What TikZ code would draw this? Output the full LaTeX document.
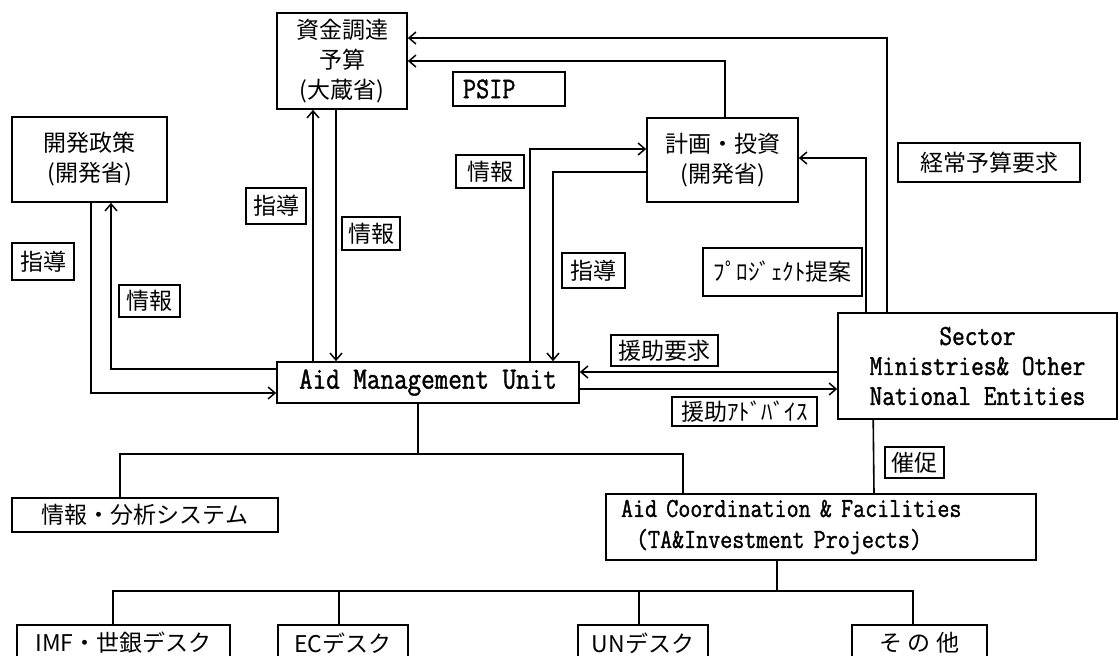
\documentclass[tikz,border=0pt]{standalone}
\usepackage{fontspec}
\setmainfont{Noto Sans CJK JP}
\newfontfamily\lat[FakeStretch=0.85,FakeBold=1.2]{Latin Modern Mono}
\usetikzlibrary{arrows.meta}
\tikzset{
  box/.style={draw, line width=1.6pt, inner sep=0pt, align=center,
    font=\fontsize{23}{30}\selectfont},
  tag/.style={draw, line width=1.6pt, inner sep=0pt,
    font=\fontsize{23}{28}\selectfont},
  ln/.style={line width=1.6pt},
  arr/.style={ln, -{Straight Barb[length=7pt,width=12pt,line width=1.5pt]}},
}
\begin{document}
\begin{tikzpicture}[x=1pt,y=-1pt]
\useasboundingbox (0,0) rectangle (1120,656);
\clip (0,0) rectangle (1120,656);
\fill[white] (0,0) rectangle (1120,656);

% main boxes
\node[box, minimum width=130pt, minimum height=96pt] (fin) at (342,61) {資金調達\\予算\\(大蔵省)};
\node[box, minimum width=155pt, minimum height=85pt] (kpol) at (89.5,159.5) {開発政策\\(開発省)};
\node[box, minimum width=151pt, minimum height=84pt] (plan) at (722.5,160) {計画・投資\\(開発省)};
\node[box, minimum width=302pt, minimum height=41pt, font=\lat\fontsize{31}{30}\selectfont] (amu) at (428,382.5) {Aid Management Unit};
\node[box, minimum width=279pt, minimum height=106pt, font=\lat\fontsize{29}{30}\selectfont] (sec) at (977.5,366) {Sector\\Ministries\& Other\\National Entities};
\node[box, minimum width=430pt, minimum height=66pt, text width=400pt, align=left, font=\lat\fontsize{27.5}{31}\selectfont] (acf) at (821,527) {Aid Coordination \& Facilities\\\hspace*{15pt}(TA\&Investment Projects)};
\node[box, minimum width=266pt, minimum height=34pt] (info) at (145,515) {情報・分析システム};
\node[box, minimum width=213pt, minimum height=36pt] (imf) at (123.5,643) {IMF・世銀デスク};
\node[box, minimum width=130pt, minimum height=36pt] (ec) at (343,643) {ECデスク};
\node[box, minimum width=130pt, minimum height=36pt] (un) at (643,643) {UNデスク};
\node[box, minimum width=135pt, minimum height=36pt] (other) at (919.5,643) {そ の 他};

% labels
\node[tag, minimum width=62pt, minimum height=37pt] (g1) at (43,261.5) {指導};
\node[tag, minimum width=61pt, minimum height=32pt] (i1) at (149.5,301) {情報};
\node[tag, minimum width=60pt, minimum height=36pt] (g2) at (276,206) {指導};
\node[tag, minimum width=58pt, minimum height=33pt] (i2) at (371,233.5) {情報};
\node[tag, minimum height=34pt, text width=92pt, inner xsep=10pt, align=left, font=\lat\fontsize{30}{30}\selectfont] (psip) at (509,89) {PSIP};
\node[tag, minimum width=68pt, minimum height=33pt] (i3) at (490,171.5) {情報};
\node[tag, minimum width=63pt, minimum height=35pt] (g3) at (593.5,270.5) {指導};
\node[tag, minimum width=159pt, minimum height=48pt] (prop) at (782.5,272) {ﾌﾟﾛｼﾞｪｸﾄ提案};
\node[tag, minimum width=182pt, minimum height=39pt] (rec) at (989,162.5) {経常予算要求};
\node[tag, minimum width=107pt, minimum height=31pt] (req) at (664.5,350.5) {援助要求};
\node[tag, minimum width=145pt, minimum height=29pt] (adv) at (744.5,411.5) {援助ｱﾄﾞﾊﾞｲｽ};
\node[tag, minimum width=59pt, minimum height=31pt] (urge) at (914.5,462.5) {催促};

% connectors
\draw[arr] ([xshift=50pt]sec.north west) |- ([yshift=23pt]fin.east);
\draw[arr] ([xshift=2.5pt]plan.north) |- (fin.east);
\draw[arr] ([xshift=29pt]sec.north west) |- ([yshift=2pt]plan.east);
\draw[arr] ([xshift=102pt]amu.north) |- ([yshift=11pt]plan.west);
\draw[arr] ([yshift=-12pt]plan.west) -| ([xshift=125pt]amu.north);
\draw[arr] ([xshift=-115pt]amu.north) -- ([xshift=-29pt]fin.south);
\draw[arr] ([xshift=-6pt]fin.south) -- ([xshift=-92pt]amu.north);
\draw[arr] ([xshift=1.5pt]kpol.south) |- ([yshift=-10.5pt]amu.west);
\draw[arr] ([yshift=13.5pt]amu.west) -| ([xshift=21.5pt]kpol.south);
\draw[arr] ([yshift=-6pt]sec.west) -- ([yshift=10.5pt]amu.east);
\draw[arr] ([yshift=-6.5pt]amu.east) -- ([yshift=-23pt]sec.west);
\draw[ln] ([xshift=53pt]acf.north) -- ([xshift=36pt]sec.south west);

\coordinate (t1) at (418,454);
\draw[ln] ([xshift=-10pt]amu.south) -- (t1);
\draw[ln] ([xshift=-25pt]info.north) |- (t1) -| ([xshift=-138pt]acf.north);

\coordinate (t2) at (777,591);
\draw[ln] ([xshift=-44pt]acf.south) -- (t2);
\draw[ln] ([xshift=-10.5pt]imf.north) |- (t2) -| ([xshift=-6.5pt]other.north);
\draw[ln] ([xshift=-4pt]ec.north) |- (t2);
\draw[ln] ([xshift=-4pt]un.north) |- (t2);
\end{tikzpicture}
\end{document}
